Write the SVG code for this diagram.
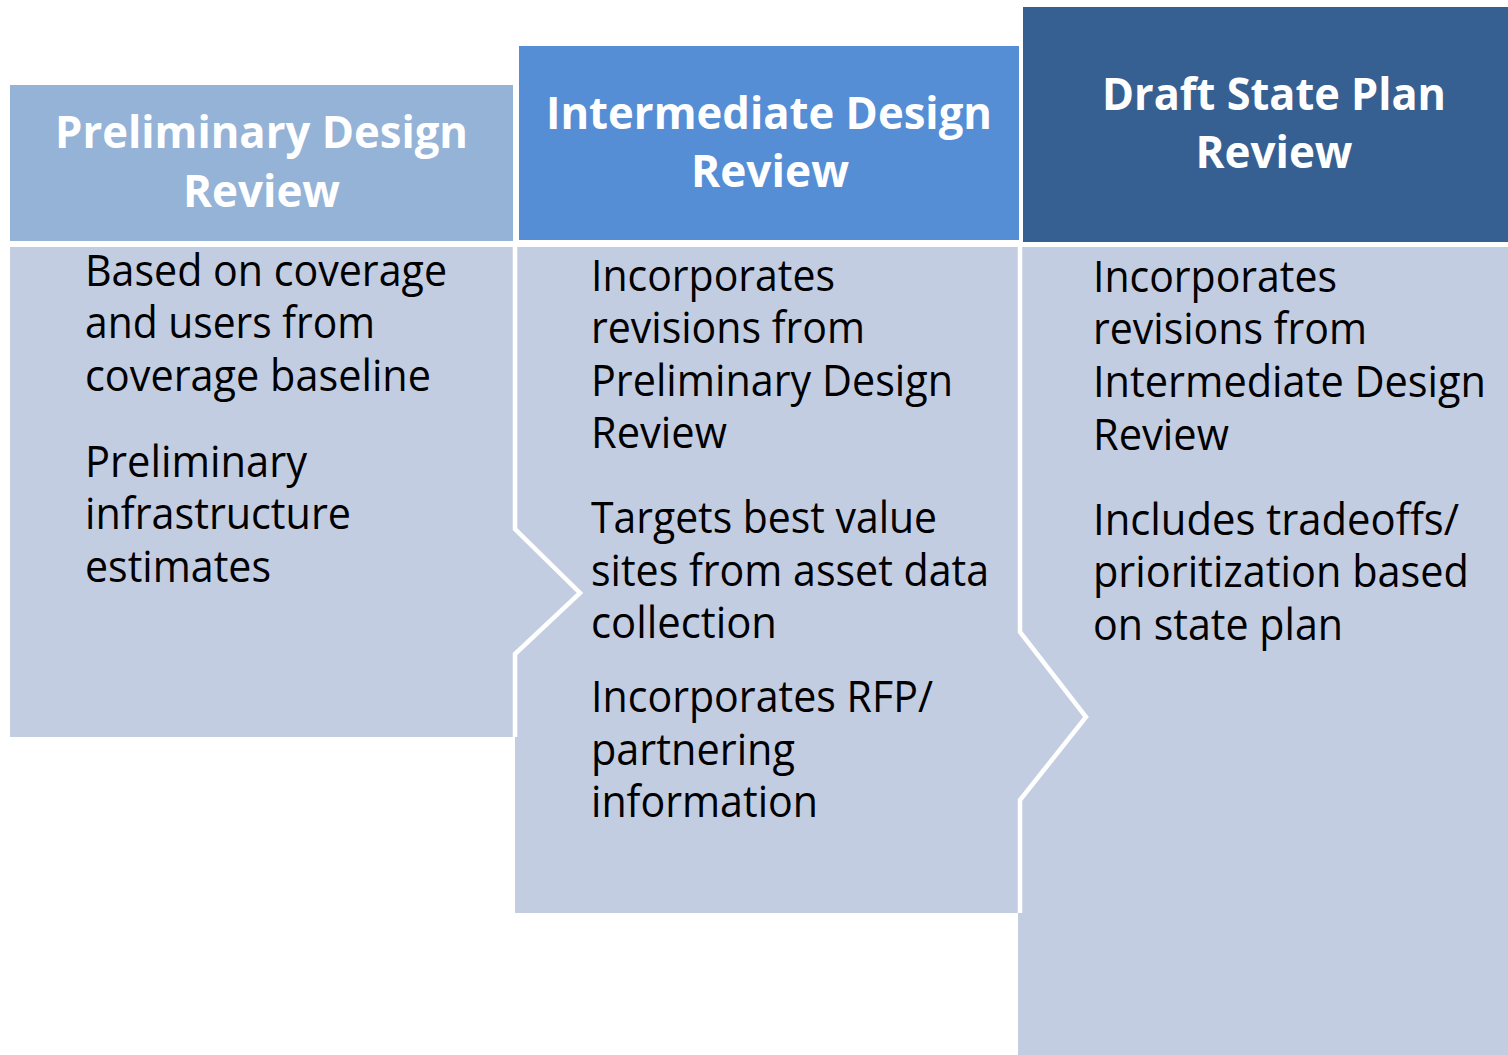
<svg xmlns="http://www.w3.org/2000/svg" width="1508" height="1055" viewBox="0 0 1508 1055">
<style>
.body{fill:#C3CDE2}
.hd{font-family:"Open Sans","Liberation Sans",sans-serif;font-weight:bold;font-size:44px;fill:#FFFFFF;text-anchor:middle}
.tx{font-family:"Open Sans","Liberation Sans",sans-serif;font-size:43px;fill:#000000}
.sep{fill:none;stroke:#FFFFFF;stroke-width:4.5;stroke-linejoin:miter}
</style>
<rect width="1508" height="1055" fill="#FFFFFF"/>
<g id="bodies">
<rect class="body" x="1018" y="247" width="490" height="808"/>
<rect class="body" x="515" y="247" width="505" height="666"/>
<rect class="body" x="10" y="247" width="505" height="490"/>
<polygon class="body" points="515,529 580,593 515,654"/>
<polygon class="body" points="1020,632 1086,717 1020,800"/>
</g>
<g id="connectors">
<polyline class="sep" points="515,247 515,529 580,593 515,654 515,737"/>
<polyline class="sep" points="1020,247 1020,632 1086,717 1020,800 1020,913"/>
</g>
<g id="node-preliminary">
<rect x="10" y="85" width="503" height="156" fill="#95B3D7"/>
<text class="hd"><tspan x="261.5" y="148" textLength="413" lengthAdjust="spacingAndGlyphs">Preliminary Design</tspan><tspan x="261.5" y="207" textLength="157" lengthAdjust="spacingAndGlyphs">Review</tspan></text>
<text class="tx">
<tspan x="85" y="286" textLength="362" lengthAdjust="spacingAndGlyphs">Based on coverage</tspan>
<tspan x="85" y="338" textLength="290" lengthAdjust="spacingAndGlyphs">and users from</tspan>
<tspan x="85" y="391" textLength="346" lengthAdjust="spacingAndGlyphs">coverage baseline</tspan>
<tspan x="85" y="477" textLength="222" lengthAdjust="spacingAndGlyphs">Preliminary</tspan>
<tspan x="85" y="529" textLength="266" lengthAdjust="spacingAndGlyphs">infrastructure</tspan>
<tspan x="85" y="582" textLength="186" lengthAdjust="spacingAndGlyphs">estimates</tspan>
</text>
</g>
<g id="node-draft">
<rect x="1023" y="7" width="502" height="235" fill="#376092"/>
<text class="hd"><tspan x="1274" y="110" textLength="344" lengthAdjust="spacingAndGlyphs">Draft State Plan</tspan><tspan x="1274" y="168" textLength="157" lengthAdjust="spacingAndGlyphs">Review</tspan></text>
<text class="tx">
<tspan x="1093" y="292" textLength="244" lengthAdjust="spacingAndGlyphs">Incorporates</tspan>
<tspan x="1093" y="344" textLength="274" lengthAdjust="spacingAndGlyphs">revisions from</tspan>
<tspan x="1093" y="397" textLength="393" lengthAdjust="spacingAndGlyphs">Intermediate Design</tspan>
<tspan x="1093" y="450" textLength="136" lengthAdjust="spacingAndGlyphs">Review</tspan>
<tspan x="1093" y="535" textLength="366" lengthAdjust="spacingAndGlyphs">Includes tradeoffs/</tspan>
<tspan x="1093" y="587" textLength="376" lengthAdjust="spacingAndGlyphs">prioritization based</tspan>
<tspan x="1093" y="640" textLength="250" lengthAdjust="spacingAndGlyphs">on state plan</tspan>
</text>
</g>
<g id="node-intermediate">
<rect x="518" y="45" width="502" height="196" fill="#558ED5" stroke="#FFFFFF" stroke-width="2"/>
<text class="hd"><tspan x="769" y="129" textLength="446" lengthAdjust="spacingAndGlyphs">Intermediate Design</tspan><tspan x="770" y="187" textLength="158" lengthAdjust="spacingAndGlyphs">Review</tspan></text>
<text class="tx">
<tspan x="591" y="291" textLength="244" lengthAdjust="spacingAndGlyphs">Incorporates</tspan>
<tspan x="591" y="343" textLength="274" lengthAdjust="spacingAndGlyphs">revisions from</tspan>
<tspan x="591" y="396" textLength="362" lengthAdjust="spacingAndGlyphs">Preliminary Design</tspan>
<tspan x="591" y="448" textLength="136" lengthAdjust="spacingAndGlyphs">Review</tspan>
<tspan x="591" y="533" textLength="346" lengthAdjust="spacingAndGlyphs">Targets best value</tspan>
<tspan x="591" y="586" textLength="398" lengthAdjust="spacingAndGlyphs">sites from asset data</tspan>
<tspan x="591" y="638" textLength="186" lengthAdjust="spacingAndGlyphs">collection</tspan>
<tspan x="591" y="712" textLength="342" lengthAdjust="spacingAndGlyphs">Incorporates RFP/</tspan>
<tspan x="591" y="765" textLength="204" lengthAdjust="spacingAndGlyphs">partnering</tspan>
<tspan x="591" y="817" textLength="227" lengthAdjust="spacingAndGlyphs">information</tspan>
</text>
</g>
</svg>
